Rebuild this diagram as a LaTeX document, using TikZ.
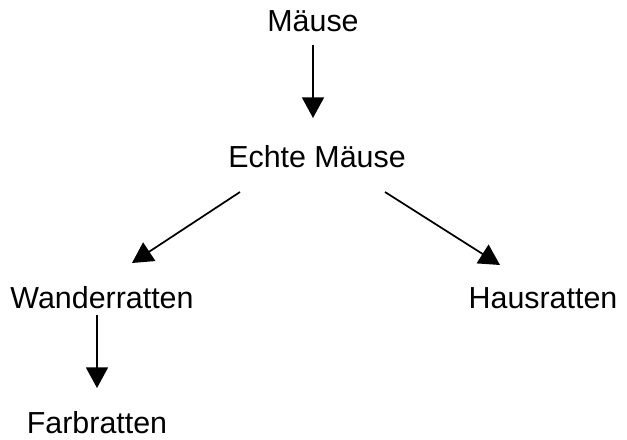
\documentclass[tikz,border=0pt]{standalone}
\usepackage{fontspec}
\setmainfont{Liberation Sans}
\usetikzlibrary{arrows.meta,calc}
\begin{document}
\begin{tikzpicture}[x=0.75pt,y=-0.75pt,
  lbl/.style={inner sep=0pt,anchor=base,font=\fontsize{22.8}{26}\selectfont},
  conn/.style={line width=1.3pt,-{Triangle[length=15.5pt,width=16.5pt]}}]
\useasboundingbox (0,0) rectangle (627,439);
\node[lbl] (m) at (313,31) {Mäuse};
\node[lbl] (e) at (317,167) {Echte Mäuse};
\node[lbl] (w) at (102,308) {Wanderratten};
\node[lbl] (h) at (543,308) {Hausratten};
\node[lbl] (f) at (97,433) {Farbratten};
\draw[conn] ($(m.base)+(0,14)$) -- ($(e.base)+(-4,-49)$);
\draw[conn] ($(e.base)+(-77,25)$) -- ($(w.base)+(30,-45)$);
\draw[conn] ($(e.base)+(68,25)$) -- ($(h.base)+(-43,-43)$);
\draw[conn] ($(w.base)+(-5,7)$) -- ($(f.base)+(0,-45)$);
\end{tikzpicture}
\end{document}
